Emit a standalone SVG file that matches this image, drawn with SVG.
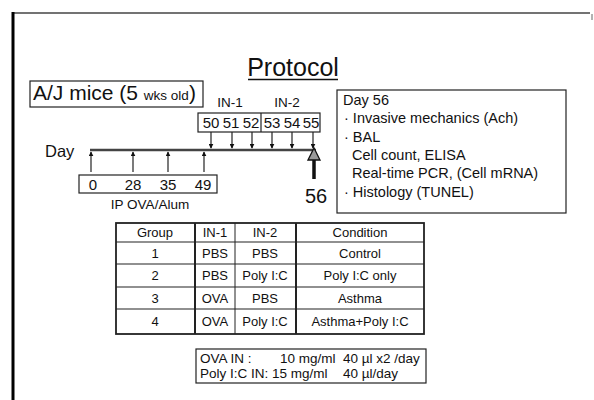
<svg xmlns="http://www.w3.org/2000/svg" width="594" height="400" viewBox="0 0 594 400">
<style>
text{font-family:"Liberation Sans",Arial,sans-serif;fill:#111}
.box{fill:none;stroke:#222;stroke-width:1.2}
.ln{stroke:#222;stroke-width:1.2;fill:none}
.tb{font-size:13px;text-anchor:middle}
.dn{font-size:14.5px}
.ds{font-size:15px;text-anchor:middle}
.bt{font-size:13.5px}
</style>
<defs>
<marker id="ah" viewBox="0 0 8 8" refX="7" refY="4" markerWidth="5" markerHeight="5" orient="auto" markerUnits="userSpaceOnUse">
<path d="M0,0 L8,4 L0,8 Z" fill="#111"/>
</marker>
</defs>
<rect width="594" height="400" fill="#fff"/>
<g id="frame">
<line x1="13" y1="13" x2="590" y2="13" stroke="#444" stroke-width="1.5"/>
<line x1="13" y1="12" x2="13" y2="400" stroke="#000" stroke-width="3"/>
<line x1="592" y1="14" x2="592" y2="20" stroke="#999" stroke-width="1.5"/>
</g>
<g id="title">
<text x="293" y="76" font-size="25" text-anchor="middle">Protocol</text>
<line x1="248" y1="79.5" x2="338" y2="79.5" stroke="#111" stroke-width="1.5"/>
</g>
<g id="mice">
<rect class="box" x="30" y="81" width="173" height="26"/>
<text x="33" y="100" font-size="21">A/J mice (5 <tspan font-size="13.5">wks old</tspan>)</text>
</g>
<g id="labels">
<text x="230" y="107" font-size="13.5" text-anchor="middle">IN-1</text>
<text x="287" y="107" font-size="13.5" text-anchor="middle">IN-2</text>
<text x="45" y="157" font-size="16.5">Day</text>
<text x="150" y="209" font-size="13.5" text-anchor="middle">IP OVA/Alum</text>
<text x="316" y="203" font-size="20" text-anchor="middle">56</text>
</g>
<g id="in-days">
<rect class="box" x="198" y="113" width="122" height="19"/>
<line class="ln" x1="261" y1="113" x2="261" y2="132"/>
<text class="ds" x="211" y="128">50</text>
<text class="ds" x="231" y="128">51</text>
<text class="ds" x="251" y="128">52</text>
<text class="ds" x="272" y="128">53</text>
<text class="ds" x="292" y="128">54</text>
<text class="ds" x="311" y="128">55</text>
</g>
<g id="ip-days">
<rect class="box" x="79" y="175" width="138" height="18"/>
<text class="ds" x="93" y="190">0</text>
<text class="ds" x="133" y="190">28</text>
<text class="ds" x="168" y="190">35</text>
<text class="ds" x="203" y="190">49</text>
</g>
<g id="day56">
<rect class="box" x="337" y="90" width="229" height="123"/>
<text class="dn" x="343" y="105">Day 56</text>
<text class="dn" x="344" y="123">· Invasive mechanics (Ach)</text>
<text class="dn" x="344" y="142">· BAL</text>
<text class="dn" x="352" y="160">Cell count, ELISA</text>
<text class="dn" x="352" y="178">Real-time PCR, (Cell mRNA)</text>
<text class="dn" x="344" y="197">· Histology (TUNEL)</text>
</g>
<g id="connectors">
<line x1="90" y1="150" x2="316" y2="150" stroke="#444" stroke-width="2.5"/>
<g class="ln" marker-end="url(#ah)">
<line x1="91" y1="172" x2="91" y2="152"/>
<line x1="133" y1="172" x2="133" y2="152"/>
<line x1="168" y1="172" x2="168" y2="152"/>
<line x1="204" y1="172" x2="204" y2="152"/>
<line x1="211" y1="132" x2="211" y2="148"/>
<line x1="232" y1="132" x2="232" y2="148"/>
<line x1="252" y1="132" x2="252" y2="148"/>
<line x1="272" y1="132" x2="272" y2="148"/>
<line x1="292" y1="132" x2="292" y2="148"/>
<line x1="313" y1="132" x2="313" y2="148"/>
</g>
<line x1="314" y1="158" x2="314" y2="179" stroke="#111" stroke-width="3.5"/>
<path d="M308,160 L314,148 L320,160 Z" fill="#999" stroke="#111" stroke-width="1.3"/>
</g>
<g id="table">
<rect x="116" y="223" width="308" height="111" fill="none" stroke="#222" stroke-width="1.8"/>
<g class="ln">
<line x1="116" y1="242" x2="424" y2="242"/>
<line x1="116" y1="264" x2="424" y2="264"/>
<line x1="116" y1="287" x2="424" y2="287"/>
<line x1="116" y1="309" x2="424" y2="309"/>
<line x1="195" y1="223" x2="195" y2="334" stroke-width="2"/>
<line x1="235" y1="223" x2="235" y2="334" stroke-width="1"/>
<line x1="296" y1="223" x2="296" y2="334" stroke-width="2"/>
</g>
<text class="tb" x="155" y="237">Group</text>
<text class="tb" x="215" y="237">IN-1</text>
<text class="tb" x="265" y="237">IN-2</text>
<text class="tb" x="360" y="237">Condition</text>
<text class="tb" x="155" y="258">1</text>
<text class="tb" x="215" y="258">PBS</text>
<text class="tb" x="265" y="258">PBS</text>
<text class="tb" x="360" y="258">Control</text>
<text class="tb" x="155" y="280">2</text>
<text class="tb" x="215" y="280">PBS</text>
<text class="tb" x="265" y="280">Poly I:C</text>
<text class="tb" x="360" y="280">Poly I:C only</text>
<text class="tb" x="155" y="303">3</text>
<text class="tb" x="215" y="303">OVA</text>
<text class="tb" x="265" y="303">PBS</text>
<text class="tb" x="360" y="303">Asthma</text>
<text class="tb" x="155" y="326">4</text>
<text class="tb" x="215" y="326">OVA</text>
<text class="tb" x="265" y="326">Poly I:C</text>
<text class="tb" x="360" y="326">Asthma+Poly I:C</text>
</g>
<g id="dose">
<rect class="box" x="196" y="349" width="230" height="34"/>
<text class="bt" x="200" y="363">OVA IN :</text>
<text class="bt" x="280" y="363">10 mg/ml</text>
<text class="bt" x="343" y="363">40 µl x2 /day</text>
<text class="bt" x="200" y="378">Poly I:C IN: 15 mg/ml</text>
<text class="bt" x="343" y="378">40 µl/day</text>
</g>
</svg>
